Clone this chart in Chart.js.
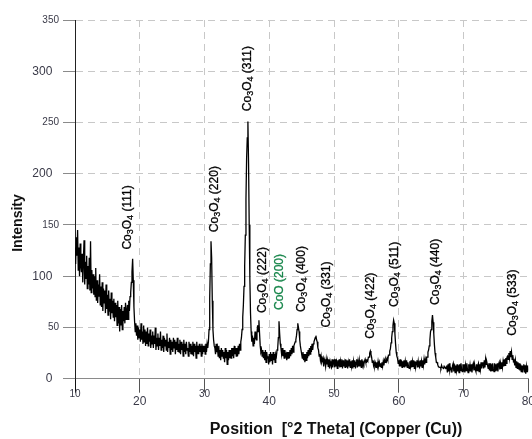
<!DOCTYPE html>
<html>
<head>
<meta charset="utf-8">
<script src="https://cdn.jsdelivr.net/npm/chart.js@4.4.1/dist/chart.umd.min.js"></script>
<style>
  html, body { margin: 0; padding: 0; background: #ffffff; }
  #wrap { width: 532px; height: 439px; position: relative; }
</style>
</head>
<body>
<div id="wrap"><canvas id="c" width="532" height="439"></canvas></div>
<script>
// ---- Data ----
// Scan grid: 2-theta from 10.0 to 80.0 in 0.1 degree steps
const twoThetaStart = 10.0;
const twoThetaStep = 0.1;

// Intensity values (counts), one row per degree (10.0 ... 10.9, 11.0 ... , 80.0)
const intensity = [
  128,112,138,120,145,106,128,100,132,110,   // 10
  104,122,94,117,135,92,114,98,120,88,       // 11
  110,92,118,86,134,84,106,88,102,82,        // 12
  100,80,108,76,96,74,92,80,102,72,          // 13
  90,70,94,66,88,74,86,64,92,68,             // 14
  82,62,86,66,78,58,84,64,76,60,             // 15
  78,56,74,60,72,52,76,54,70,46,             // 16
  68,52,72,48,66,56,70,54,74,58,             // 17
  66,72,58,76,66,80,84,94,104,117,           // 18
  96,70,56,46,54,42,52,38,50,40,             // 19
  48,36,54,38,46,34,52,36,48,32,             // 20
  46,34,50,32,44,36,48,30,42,34,             // 21
  46,30,42,34,50,28,40,32,44,28,             // 22
  40,32,46,28,38,30,42,26,40,32,             // 23
  38,28,44,26,36,30,40,24,38,28,             // 24
  36,26,40,30,38,24,36,28,40,26,             // 25
  34,26,38,24,36,28,34,22,38,26,             // 26
  34,24,36,28,30,22,36,26,34,24,             // 27
  32,24,36,22,34,26,32,20,36,24,             // 28
  32,24,34,26,32,22,34,24,32,26,             // 29
  32,24,34,26,34,30,36,48,78,112,            // 30
  134,118,76,48,38,32,30,24,34,26,           // 31
  30,22,32,20,28,18,30,22,28,20,             // 32
  26,16,30,20,28,14,26,18,28,20,             // 33
  28,20,30,22,30,20,32,24,30,22,             // 34
  30,22,32,24,34,28,36,40,48,60,             // 35
  72,90,110,140,175,215,235,251,210,150,     // 36
  98,64,46,36,42,32,40,34,46,40,             // 37
  38,44,52,46,57,44,32,26,28,22,             // 38
  28,20,26,18,28,16,26,20,22,14,             // 39
  24,16,26,18,24,14,26,18,24,16,             // 40
  24,22,28,30,40,56,44,34,30,24,             // 41
  30,22,28,20,28,22,24,18,26,20,             // 42
  26,20,28,22,30,24,32,26,32,34,             // 43
  36,38,42,48,54,50,46,38,32,28,             // 44
  28,20,26,18,24,16,24,18,26,20,             // 45
  28,22,30,24,32,26,34,28,34,36,             // 46
  38,40,42,38,36,30,28,22,24,18,             // 47
  22,16,18,20,12,19,17,12,19,14,             // 48
  18,12,19,10,17,14,12,19,11,17,             // 49
  18,11,19,12,16,10,18,12,19,11,             // 50
  17,12,19,10,18,12,16,11,19,12,             // 51
  18,10,16,12,19,11,17,12,18,10,             // 52
  17,12,18,10,16,19,11,17,12,18,             // 53
  12,18,11,19,13,16,14,17,19,16,             // 54
  16,18,17,21,21,25,27,24,21,16,             // 55
  18,13,16,12,15,11,16,12,17,13,             // 56
  16,12,15,11,16,12,17,13,18,16,             // 57
  19,17,20,18,23,23,27,29,35,40,             // 58
  46,52,57,54,44,34,26,22,20,15,             // 59
  18,12,19,12,18,11,17,12,18,11,             // 60
  17,12,18,11,16,12,10,17,12,18,             // 61
  11,17,12,18,10,17,11,16,18,11,             // 62
  17,12,11,18,12,17,11,18,13,19,             // 63
  14,19,16,21,21,26,28,32,38,46,             // 64
  48,56,62,55,44,33,25,21,16,16,             // 65
  14,12,12,11,11,10,13,11,11,10,             // 66
  12,11,11,10,13,6,14,7,15,8,                // 67
  11,10,6,13,15,7,14,6,13,8,                 // 68
  14,7,13,6,14,8,15,9,7,14,                  // 69
  7,14,6,13,8,15,9,6,14,7,                   // 70
  13,7,14,6,13,15,8,14,9,7,                  // 71
  14,8,13,15,7,14,9,16,10,15,                // 72
  16,10,18,11,19,14,16,13,10,15,             // 73
  8,15,7,14,8,15,10,7,15,8,                  // 74
  14,8,15,7,14,16,9,15,10,16,                // 75
  11,17,12,19,13,20,15,21,22,19,             // 76
  25,20,27,21,26,19,23,17,18,13,             // 77
  18,11,17,10,16,9,15,8,14,7,                // 78
  13,6,12,14,6,13,5,12,7,13,                 // 79
  8                                          // 80
];

// Peak labels (phase, hkl), their 2-theta positions and anchor intensity
const peakPhase = ["Co3O4","Co3O4","Co3O4","Co3O4","CoO","Co3O4","Co3O4","Co3O4","Co3O4","Co3O4","Co3O4"];
const peakHkl   = ["(111)","(220)","(311)","(222)","(200)","(400)","(331)","(422)","(511)","(440)","(533)"];
const peakTheta = [18.1, 31.5, 36.6, 39.0, 41.6, 45.0, 48.9, 55.6, 59.4, 65.7, 77.6];
const peakLabelBase = [126, 143, 261, 64, 67, 65, 50, 39, 70, 72, 42];

// Axis ticks
const xTicks = [10, 20, 30, 40, 50, 60, 70, 80];
const yTicks = [0, 50, 100, 150, 200, 250, 300, 350];

const xTitle = "Position  [°2 Theta] (Copper (Cu))";
const yTitle = "Intensity";

// ---- Build dataset ----
const points = intensity.map((v, i) => ({ x: +(twoThetaStart + i * twoThetaStep).toFixed(1), y: v }));

const FONT = "'Liberation Sans', Arial, Helvetica, sans-serif";

const labelsPlugin = {
  id: 'peakLabels',
  afterDatasetsDraw(chart) {
    const { ctx, scales: { x, y } } = chart;
    ctx.save();
    for (let i = 0; i < peakTheta.length; i++) {
      const px = x.getPixelForValue(peakTheta[i]);
      const py = y.getPixelForValue(peakLabelBase[i]);
      const green = peakPhase[i] === 'CoO';
      ctx.save();
      ctx.translate(px, py);
      ctx.rotate(-Math.PI / 2);
      ctx.fillStyle = green ? '#16854a' : '#000000';
      ctx.strokeStyle = ctx.fillStyle;
      ctx.lineWidth = 0.3;
      ctx.textBaseline = 'middle';
      ctx.textAlign = 'left';
      let cx = 0;
      const big = '12px ' + FONT;
      const small = '9px ' + FONT;
      const parts = [];
      if (peakPhase[i] === 'Co3O4') {
        parts.push(['Co', big, 0], ['3', small, 3], ['O', big, 0], ['4', small, 3]);
      } else {
        parts.push([peakPhase[i], big, 0]);
      }
      parts.push([' ' + peakHkl[i], big, 0]);
      for (const [t, f, dy] of parts) {
        ctx.font = f;
        ctx.fillText(t, cx, dy);
        ctx.strokeText(t, cx, dy);
        cx += ctx.measureText(t).width;
      }
      ctx.restore();
    }
    ctx.restore();
  }
};

const titlesPlugin = {
  id: 'axisTitles',
  afterDraw(chart) {
    const { ctx } = chart;
    ctx.save();
    ctx.fillStyle = '#111111';
    ctx.textAlign = 'center';
    ctx.textBaseline = 'middle';
    ctx.font = 'bold 16px ' + FONT;
    ctx.fillText(xTitle, 336, 430);
    ctx.translate(18, 223);
    ctx.rotate(-Math.PI / 2);
    ctx.font = 'bold 14px ' + FONT;
    ctx.fillText(yTitle, 0, 0);
    ctx.restore();
  }
};

new Chart(document.getElementById('c'), {
  type: 'line',
  data: {
    datasets: [{
      data: points,
      borderColor: '#000000',
      borderWidth: 1.3,
      pointRadius: 0,
      tension: 0,
      fill: false
    }]
  },
  options: {
    responsive: false,
    animation: false,
    parsing: true,
    layout: { padding: { left: 0, right: 3, top: 20, bottom: 0 } },
    plugins: { legend: { display: false }, tooltip: { enabled: false } },
    scales: {
      x: {
        type: 'linear',
        min: 10, max: 80,
        afterBuildTicks(s) { s.ticks = xTicks.map(v => ({ value: v })); },
        afterFit(s) { s.height = 60.3; },
        border: { display: true, color: '#8a8a8a', width: 1, dash: [7, 5] },
        grid: {
          color: c => (c.tick && (c.tick.value === 10 || c.tick.value === 80)) ? 'rgba(0,0,0,0)' : '#c8c8c8',
          tickColor: c => (c.tick && c.tick.value === 10) ? '#111111' : '#555555',
          tickLength: 14,
          lineWidth: 1
        },
        ticks: {
          padding: -3,
          color: '#3a3a48',
          maxRotation: 0,
          autoSkip: false,
          font: c => (c.index % 2 === 0)
            ? { family: FONT, size: 10, lineHeight: '10px' }
            : { family: FONT, size: 12, lineHeight: '23px' },
          callback: v => String(v)
        }
      },
      y: {
        min: 0, max: 350,
        afterBuildTicks(s) { s.ticks = yTicks.map(v => ({ value: v })); },
        afterFit(s) { s.width = 75; },
        border: { display: true, color: '#222222', width: 1, dash: [7, 5] },
        grid: {
          color: c => (c.tick && c.tick.value === 0) ? 'rgba(0,0,0,0)' : '#c8c8c8',
          tickColor: '#8a8a8a',
          tickLength: 12,
          lineWidth: 1
        },
        ticks: {
          padding: 4,
          color: '#3a3a48',
          autoSkip: false,
          font: c => (c.tick && (c.tick.value / 50) % 2 === 1)
            ? { family: FONT, size: 10 }
            : { family: FONT, size: 12 },
          callback: v => ((v / 50) % 2 === 1) ? String(v) : String(v) + '  '
        }
      }
    }
  },
  plugins: [labelsPlugin, titlesPlugin]
});
</script>
</body>
</html>
